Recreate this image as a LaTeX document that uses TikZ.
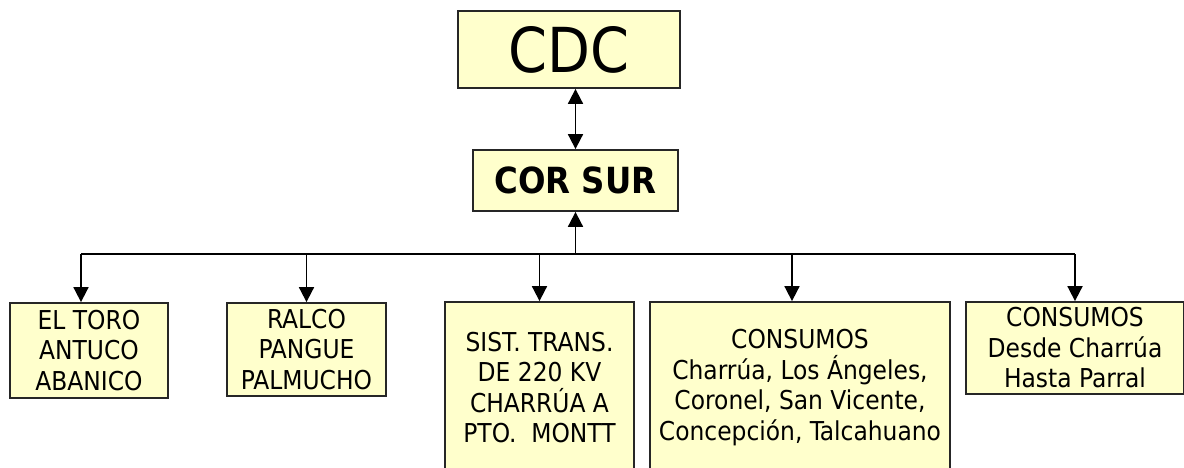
\documentclass[tikz,border=0pt]{standalone}
\usepackage{fontspec}
\setmainfont{DejaVu Sans Condensed}
\usetikzlibrary{arrows.meta}
\definecolor{boxfill}{HTML}{FFFFCC}

\begin{document}
\begin{tikzpicture}[x=1pt,y=-1pt,line width=1.8pt,
  box/.style={draw=black!85,fill=boxfill,inner sep=0pt,align=center,font=\fontsize{26}{30.5}\selectfont},
  tip/.style={-{Triangle[width=15pt,length=15pt]}}]
\clip (0,0) rectangle (1184,468);
% top of the tree
\node[box,minimum width=222,minimum height=77,font=\fontsize{62}{62}\selectfont] (cdc) at (569,49.5) {CDC};
\node[box,minimum width=205,minimum height=61,font=\fontsize{36}{36}\selectfont\bfseries] (cor) at (575.5,180.5) {COR SUR};
% the five boxes below
\node[box,minimum width=158,minimum height=95] (b1) at (89,350.5) {EL TORO\\ANTUCO\\ABANICO};
\node[box,minimum width=159,minimum height=93] (b2) at (306.5,349.5) {RALCO\\PANGUE\\PALMUCHO};
\node[box,minimum width=189,minimum height=171] (b3) at (539.5,387.5) {SIST. TRANS.\\DE 220 KV\\CHARRÚA A\\PTO.~~MONTT};
\node[box,minimum width=300,minimum height=171] (b4) at (800,387.5) {CONSUMOS\\Charrúa, Los Ángeles,\\Coronel, San Vicente,\\Concepción, Talcahuano};
\node[box,minimum width=218,minimum height=92] (b5) at (1075,348) {CONSUMOS\\Desde Charrúa\\Hasta Parral};
\coordinate (bus) at (572,254);
% connectors
\draw[{Triangle[width=15pt,length=15pt]}-{Triangle[width=15pt,length=15pt]}] (cor.north |- cdc.south) -- (cor.north);
\draw[tip] (cor.south |- bus) -- (cor.south);
\draw ([xshift=-8pt]b1.north |- bus) -- (b5.north |- bus);
\foreach \b/\dx in {b1/-8,b2/0,b3/0,b4/-8,b5/0}
  \draw[tip] ([xshift=\dx pt]\b.north |- bus) -- ([xshift=\dx pt]\b.north);
\end{tikzpicture}
\end{document}
